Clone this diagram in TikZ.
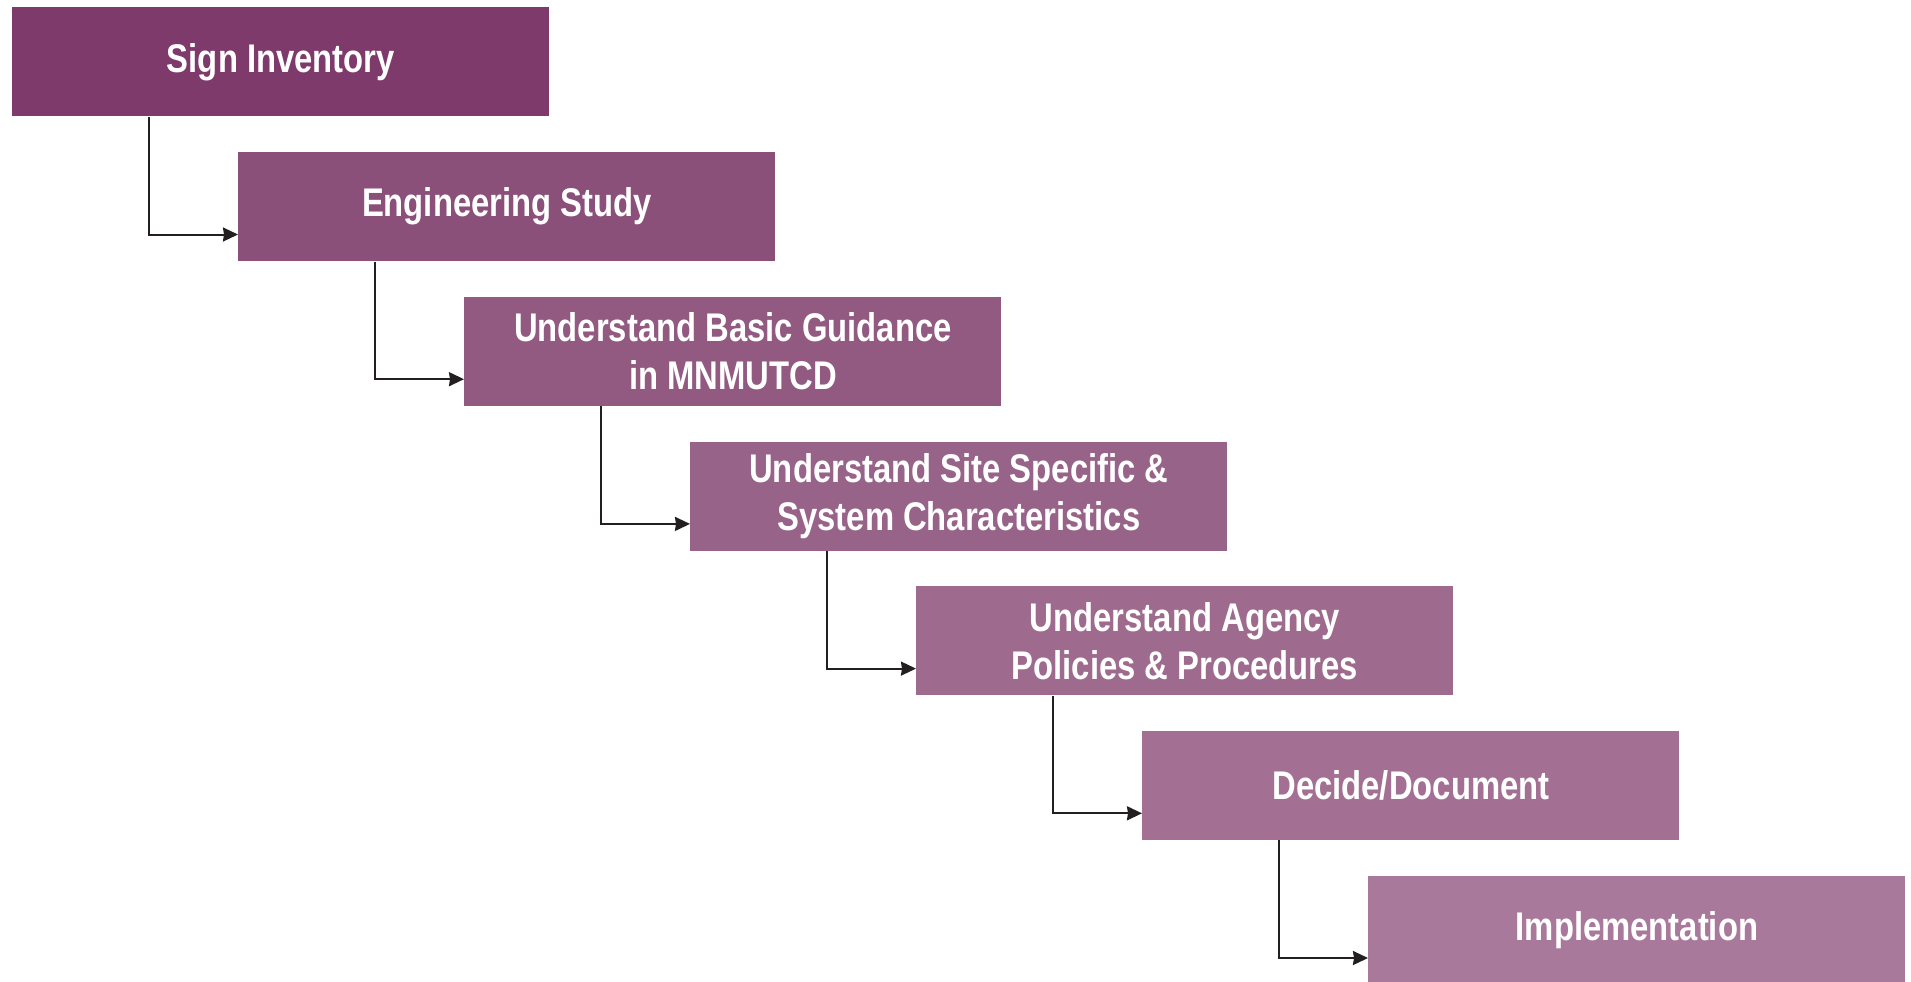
\documentclass[tikz,border=0pt]{standalone}
\usepackage{fontspec}
\setmainfont{Liberation Sans}[FakeStretch=0.82,BoldFeatures={FakeStretch=0.82}]
\usetikzlibrary{arrows.meta}
\definecolor{cA}{HTML}{7F3A6C}
\definecolor{cB}{HTML}{8A5079}
\definecolor{cC}{HTML}{925A81}
\definecolor{cD}{HTML}{986388}
\definecolor{cE}{HTML}{9E6B8E}
\definecolor{cF}{HTML}{A37093}
\definecolor{cG}{HTML}{A8799B}
\definecolor{lineC}{HTML}{231F20}
\tikzset{
  stage/.style={rectangle, anchor=north west, inner sep=0pt, minimum width=268.5pt,
    minimum height=54.5pt, text=white, align=center,
    font=\fontsize{20}{24}\selectfont\bfseries},
  conn/.style={draw=lineC, line width=1pt, -{Stealth[length=7.5pt,width=7pt,inset=0.5pt]}}
}
\begin{document}
\begin{tikzpicture}[x=0.5pt,y=-0.5pt]
\useasboundingbox (0,0) rectangle (1911,981);
\node[stage, fill=cA] (b1) at (12,7) {Sign Inventory};
\node[stage, fill=cB] (b2) at (238,151.7) {Engineering Study};
\node[stage, fill=cC] (b3) at (464,296.4) {Understand Basic Guidance\\in MNMUTCD};
\node[stage, fill=cD] (b4) at (690,441.1) {Understand Site Specific \&\\System Characteristics};
\node[stage, fill=cE] (b5) at (916,585.8) {Understand Agency\\Policies \& Procedures};
\node[stage, fill=cF] (b6) at (1142,730.5) {Decide/Document};
\node[stage, fill=cG] (b7) at (1368,875.2) {Implementation};
\foreach \a/\b in {b1/b2,b2/b3,b3/b4,b4/b5,b5/b6,b6/b7}{
  \draw[conn] ([xshift=68.5pt]\a.south west) |- ([yshift=13.5pt]\b.south west);
}
\end{tikzpicture}
\end{document}
